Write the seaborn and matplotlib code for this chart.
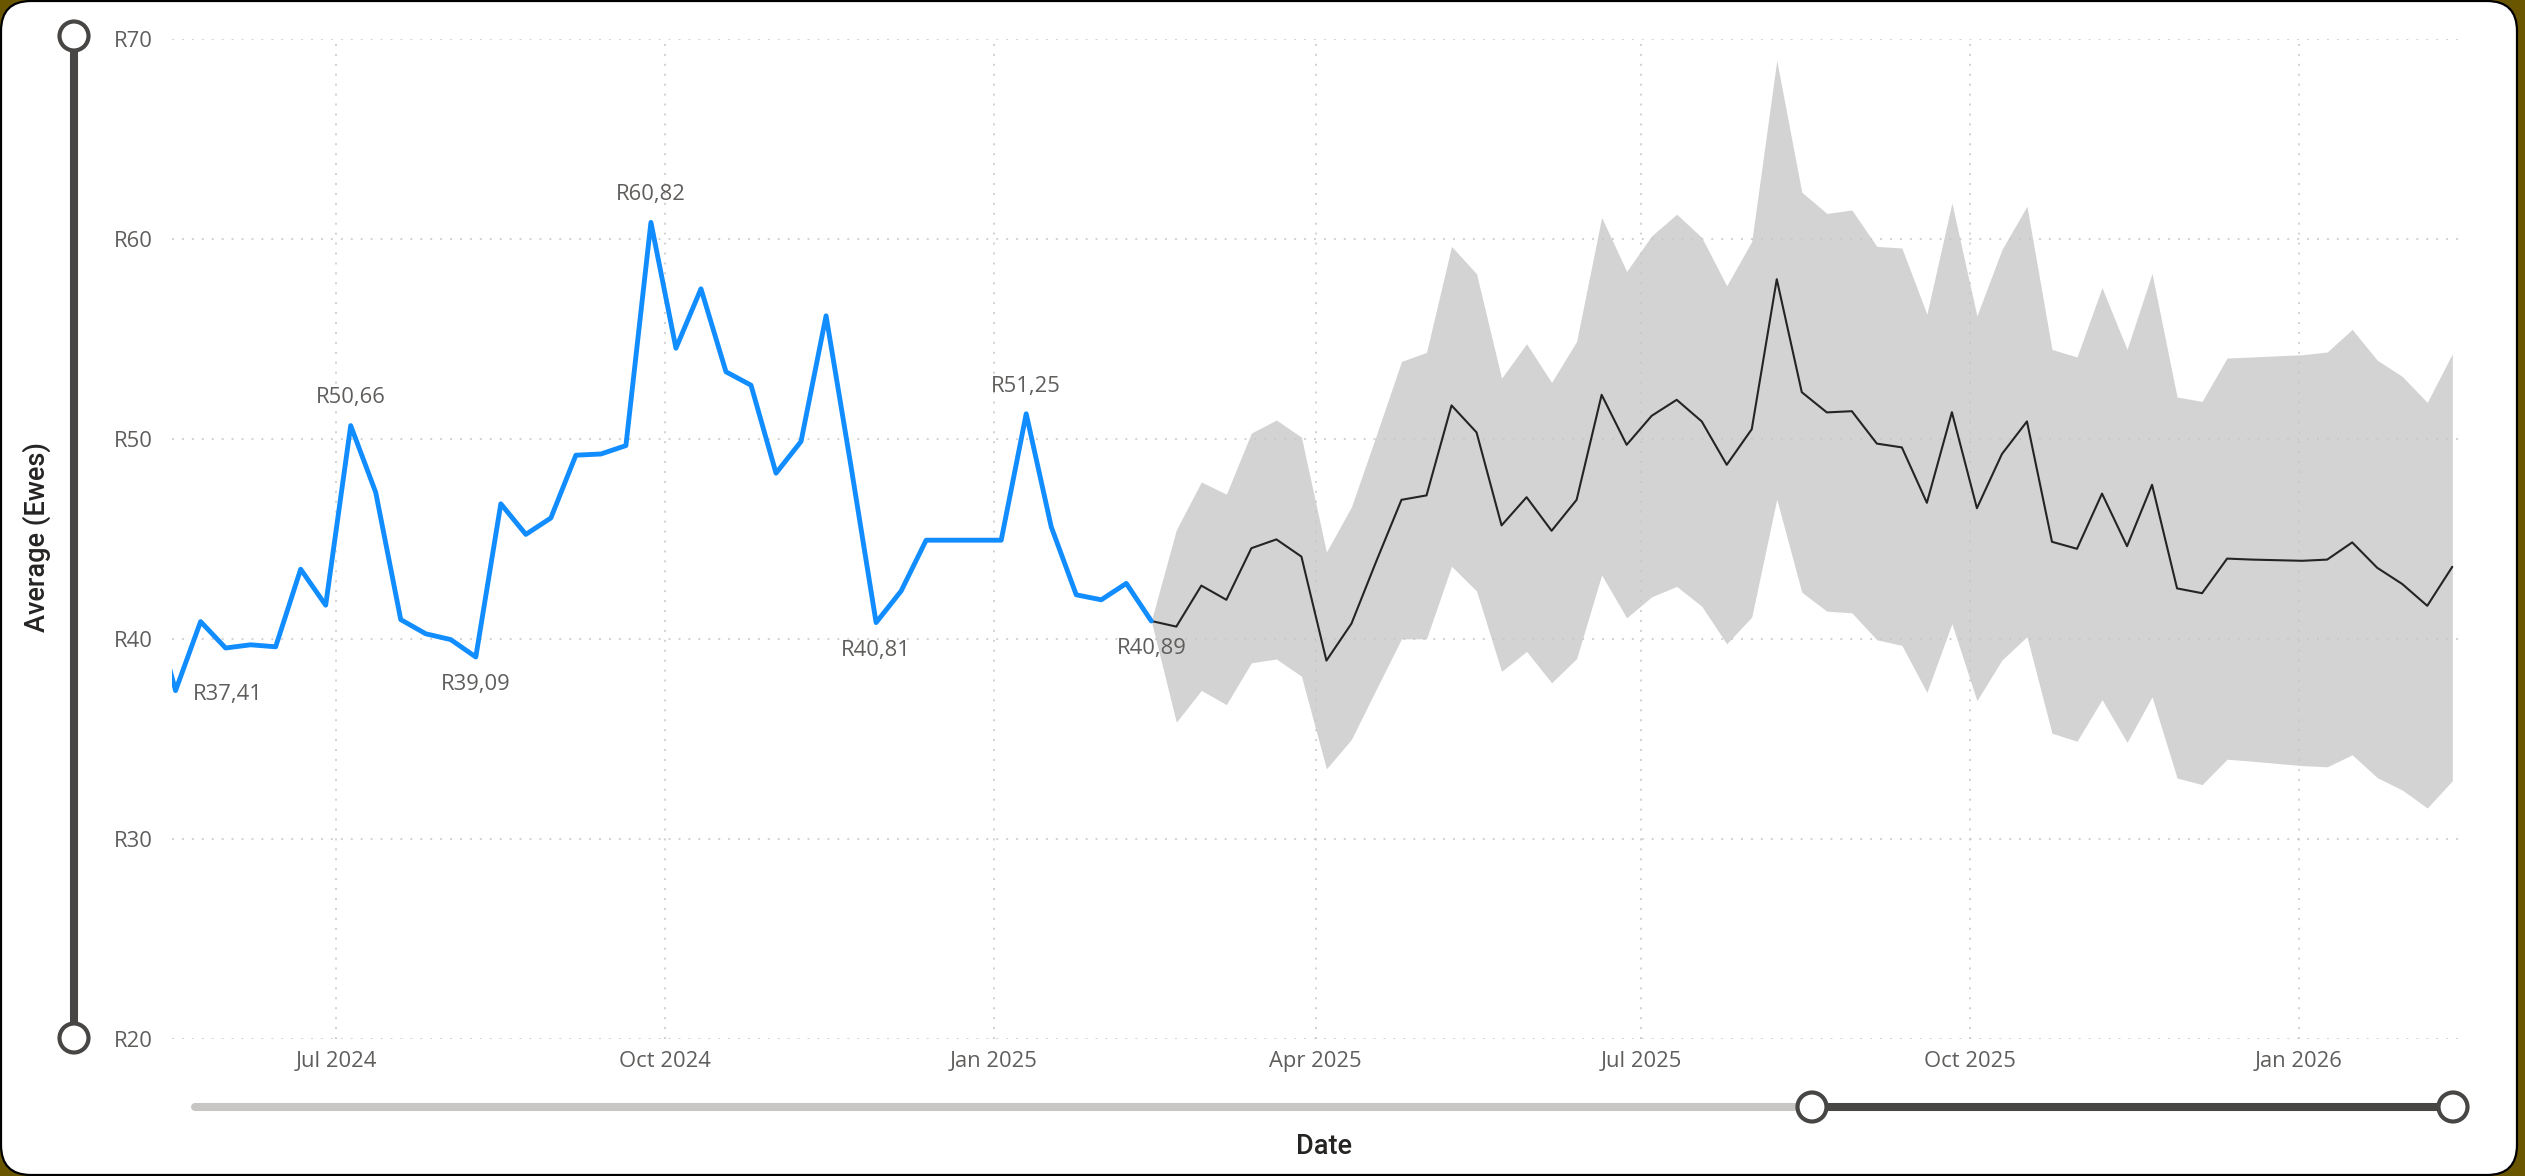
import pandas as pd
from matplotlib import pyplot as plt
import matplotlib.dates as mdates
from matplotlib.patches import FancyBboxPatch, Circle
from matplotlib.lines import Line2D
from matplotlib.transforms import IdentityTransform
import seaborn as sns

# weekly averages (first value sits just left of the visible range)
actual_dates = pd.date_range('2024-05-10', periods=41, freq='7D')
actual_values = [42.0, 37.41, 40.86, 39.54, 39.70, 39.60, 43.48, 41.68, 50.66, 47.32,
                 40.96, 40.25, 39.96, 39.09, 46.75, 45.22, 46.04, 49.18, 49.24, 49.66,
                 60.82, 54.53, 57.50, 53.35, 52.68, 48.28, 49.87, 56.15, 48.60, 40.81,
                 42.39, 44.93, 44.93, 44.93, 44.93, 51.25, 45.60, 42.20, 41.95, 42.77,
                 40.89]

forecast_dates = pd.date_range('2025-02-14', periods=53, freq='7D')
forecast_values = [40.89, 40.61, 42.66, 41.95, 44.53, 44.97, 44.11, 38.91, 40.76, 43.90,
                   46.95, 47.17, 51.67, 50.32, 45.67, 47.08, 45.40, 46.95, 52.20, 49.70,
                   51.15, 51.95, 50.87, 48.70, 50.48, 57.98, 52.33, 51.32, 51.38, 49.76,
                   49.57, 46.80, 51.33, 46.53, 49.24, 50.87, 44.85, 44.50, 47.26, 44.63,
                   47.70, 42.52, 42.28, 44.01, 43.96, 43.93, 43.90, 43.96, 44.82, 43.55,
                   42.74, 41.65, 43.60]
forecast_upper = [40.89, 45.45, 47.84, 47.23, 50.29, 50.94, 50.08, 44.34, 46.60, 50.20,
                  53.87, 54.32, 59.62, 58.25, 53.03, 54.75, 52.82, 54.87, 61.07, 58.37,
                  60.15, 61.23, 60.07, 57.65, 59.87, 68.92, 62.33, 61.27, 61.44, 59.62,
                  59.54, 56.23, 61.79, 56.15, 59.46, 61.63, 54.47, 54.09, 57.56, 54.47,
                  58.27, 52.09, 51.87, 54.04, 54.09, 54.15, 54.20, 54.34, 55.47, 53.93,
                  53.12, 51.82, 54.25]
forecast_lower = [40.89, 35.83, 37.42, 36.71, 38.80, 38.99, 38.13, 33.50, 34.97, 37.50,
                  40.00, 40.00, 43.63, 42.39, 38.37, 39.37, 37.80, 39.01, 43.19, 41.05,
                  42.10, 42.62, 41.63, 39.75, 41.09, 46.98, 42.33, 41.38, 41.30, 39.95,
                  39.67, 37.32, 40.76, 36.91, 38.94, 40.11, 35.28, 34.88, 36.96, 34.82,
                  37.10, 33.04, 32.71, 33.98, 33.88, 33.77, 33.66, 33.60, 34.20, 33.06,
                  32.44, 31.54, 32.90]

label_idx = [1, 8, 13, 20, 29, 35, 40]
label_pos = ['right', 'above', 'below', 'above', 'below', 'above', 'below']

y_ticks = [20, 30, 40, 50, 60, 70]

actual = pd.DataFrame({'date': actual_dates, 'value': actual_values})
forecast = pd.DataFrame({'date': forecast_dates, 'value': forecast_values,
                         'upper': forecast_upper, 'lower': forecast_lower})

W, H = 2525, 1176
sns.set_style("white")
plt.rcParams['font.family'] = ['Open Sans', 'DejaVu Sans']

fig = plt.figure(figsize=(W / 100, H / 100), dpi=100, facecolor='#6b5600')

# rounded white card
card = FancyBboxPatch((1, 1), 2516, 1174, boxstyle="round,pad=0,rounding_size=30",
                      transform=IdentityTransform(), facecolor='white',
                      edgecolor='black', linewidth=1.6, zorder=-5)
fig.add_artist(card)

ax = fig.add_axes([172 / W, 1 - 1038.8 / H, (2463 - 172) / W, 1000 / H])
ax.set_facecolor('none')

ax.fill_between(forecast['date'], forecast['lower'], forecast['upper'],
                color='#d3d3d3', linewidth=0, zorder=1)
sns.lineplot(data=forecast, x='date', y='value', ax=ax, color='#252423',
             linewidth=1.5, zorder=3)
sns.lineplot(data=actual, x='date', y='value', ax=ax, color='#118DFF',
             linewidth=3.5, zorder=4)

for i, pos in zip(label_idx, label_pos):
    d, v = actual_dates[i], actual_values[i]
    txt = f"R{v:.2f}".replace('.', ',')
    if pos == 'above':
        off, ha = (0, 20), 'center'
    elif pos == 'below':
        off, ha = (0, -20), 'center'
    else:
        off, ha = (12.4, -3), 'left'
    ax.annotate(txt, (d, v), xytext=off, textcoords='offset points', ha=ha,
                va='center', fontsize=15.8, color='#605E5C', zorder=5)

ax.set_xlim(pd.Timestamp('2024-05-16'), pd.Timestamp('2026-02-16'))
ax.set_ylim(20, 70)
ax.set_yticks(y_ticks)
ax.set_yticklabels([f"R{t}" for t in y_ticks])
ax.xaxis.set_major_locator(mdates.MonthLocator(bymonth=[1, 4, 7, 10]))
ax.xaxis.set_major_formatter(mdates.DateFormatter('%b %Y'))
ax.tick_params(axis='both', length=0, labelsize=15.8, labelcolor='#605E5C')
ax.tick_params(axis='y', pad=13.5)
ax.tick_params(axis='x', pad=8.5)
ax.set_xlabel('')
ax.set_ylabel('')
ax.set_axisbelow(False)
ax.grid(True, color='#c8c6c4', linestyle=(0, (1.3, 5.2)), linewidth=1.1)
for s in ax.spines.values():
    s.set_visible(False)

fig.text(37 / W, 1 - 537 / H, 'Average (Ewes)', rotation=90, ha='center', va='center',
         fontsize=19.5, fontweight=500, color='#252423', family=['Roboto', 'DejaVu Sans'])
fig.text(1324 / W, 1 - 1146 / H, 'Date', ha='center', va='center',
         fontsize=19.5, fontweight=500, color='#252423', family=['Roboto', 'DejaVu Sans'])

# zoom sliders (pixel positions, y from top)
dark, light = '#484644', '#c8c6c4'


def slider_line(x0, y0, x1, y1, color):
    fig.add_artist(Line2D([x0, x1], [H - y0, H - y1], transform=IdentityTransform(),
                          color=color, linewidth=5.8, solid_capstyle='round', zorder=10))


def handle(x, y):
    fig.add_artist(Circle((x, H - y), 14.5, transform=IdentityTransform(),
                          facecolor='white', edgecolor=dark, linewidth=3, zorder=11))


slider_line(74, 36, 74, 1038, dark)
handle(74, 36)
handle(74, 1038)

slider_line(195, 1107, 1812, 1107, light)
slider_line(1812, 1107, 2453, 1107, dark)
handle(1812, 1107)
handle(2453, 1107)

fig.savefig('out.png', dpi=100, facecolor=fig.get_facecolor())
